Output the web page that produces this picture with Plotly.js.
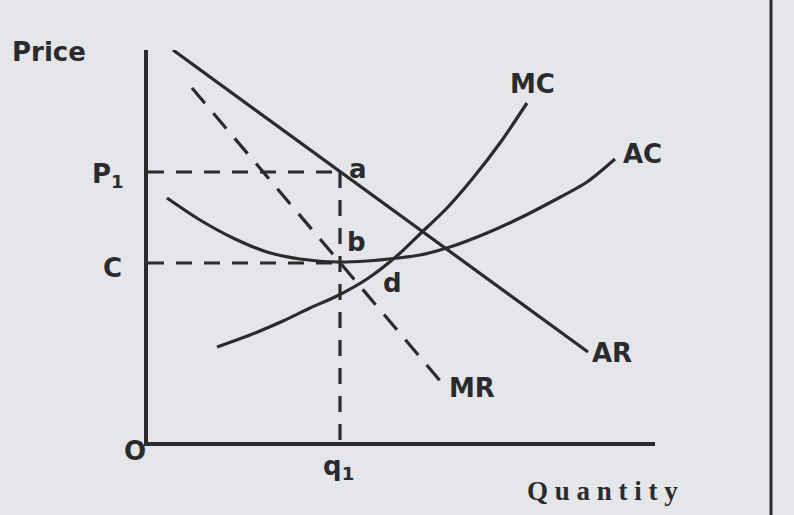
<!DOCTYPE html>
<html>
<head>
<meta charset="utf-8">
<script src="https://cdn.plot.ly/plotly-3.0.1.min.js"></script>
<style>html,body{margin:0;padding:0;background:#e5e6e9;}</style>
</head>
<body>
<div id="chart" style="width:794px;height:515px;"></div>
<script>
// Data (arbitrary quantity / price units)
const arX = [25, 440];
const arY = [392, 90];
const mrX = [44, 294];
const mrY = [354, 59];
const mcX = [69, 102, 135, 162, 189, 219, 250, 272, 299, 325, 352, 379];
const mcY = [95, 107, 121, 134, 146, 163, 187, 208, 234, 264, 299, 339];
const acX = [19, 52, 85, 119, 152, 189, 219, 250, 272, 302, 339, 372, 405, 439, 467];
const acY = [244, 222, 204, 190, 183, 180, 181, 184, 187, 195, 209, 224, 241, 260, 283];
const q1 = 192;
const p1 = 270;
const cLevel = 179;

const ink = '#2b2b2d';
const bg = '#e5e6e9';
const sans = 'DejaVu Sans, sans-serif';
const lab = {family: sans, size: 26, color: ink, weight: 700};

const traces = [
  {x: arX, y: arY, mode: 'lines', line: {color: ink, width: 3.2}},
  {x: mrX, y: mrY, mode: 'lines', line: {color: ink, width: 3.2, dash: '20px,13px'}},
  {x: mcX, y: mcY, mode: 'lines', line: {color: ink, width: 3.2, shape: 'spline', smoothing: 0.8}},
  {x: acX, y: acY, mode: 'lines', line: {color: ink, width: 3.2, shape: 'spline', smoothing: 0.8}},
  {x: [0, q1], y: [p1, p1], mode: 'lines', line: {color: ink, width: 3.2, dash: '16px,12px'}},
  {x: [0, q1], y: [cLevel, cLevel], mode: 'lines', line: {color: ink, width: 3.2, dash: '16px,12px'}},
  {x: [q1, q1], y: [p1, 0], mode: 'lines', line: {color: ink, width: 3.2, dash: '16px,12px'}}
];

function ann(text, x, y, font) {
  return {text: text, x: x, y: y, xref: 'x', yref: 'y', showarrow: false,
          xanchor: 'center', yanchor: 'middle', font: font || lab};
}
function pann(text, x, y, font) {
  return {text: text, x: x, y: y, xref: 'paper', yref: 'paper', showarrow: false,
          xanchor: 'center', yanchor: 'middle', font: font || lab};
}

const layout = {
  width: 794, height: 515,
  margin: {l: 148, r: 139, t: 50, b: 73},
  paper_bgcolor: bg,
  plot_bgcolor: bg,
  showlegend: false,
  xaxis: {range: [0, 507], showline: true, linecolor: ink, linewidth: 4,
          showgrid: false, zeroline: false, showticklabels: false, ticks: ''},
  yaxis: {range: [0, 392], showline: true, linecolor: ink, linewidth: 4,
          showgrid: false, zeroline: false, showticklabels: false, ticks: ''},
  shapes: [
    {type: 'line', xref: 'paper', yref: 'paper', x0: 1.2288, x1: 1.2288, y0: -0.2, y1: 1.2,
     line: {color: ink, width: 3}}
  ],
  annotations: [
    pann('Price', -0.1953, 0.9949, {family: sans, size: 26, color: ink, weight: 700}),
    pann('P<sub>1</sub>', -0.0789, 0.6811),
    pann('C', -0.0710, 0.4440),
    pann('O', -0.0256, -0.0230),
    pann('q<sub>1</sub>', 0.3767, -0.0638),
    ann('a', 210, 273),
    ann('b', 208, 200),
    ann('d', 244, 159),
    ann('MC', 384, 358),
    ann('AC', 494, 288),
    ann('AR', 464, 89),
    ann('MR', 324, 54),
    pann('Q u a n t i t y', 0.8974, -0.125, {family: 'Liberation Serif, serif', size: 27, color: ink, weight: 700})
  ]
};

Plotly.newPlot('chart', traces, layout, {staticPlot: true, displayModeBar: false});
</script>
</body>
</html>
